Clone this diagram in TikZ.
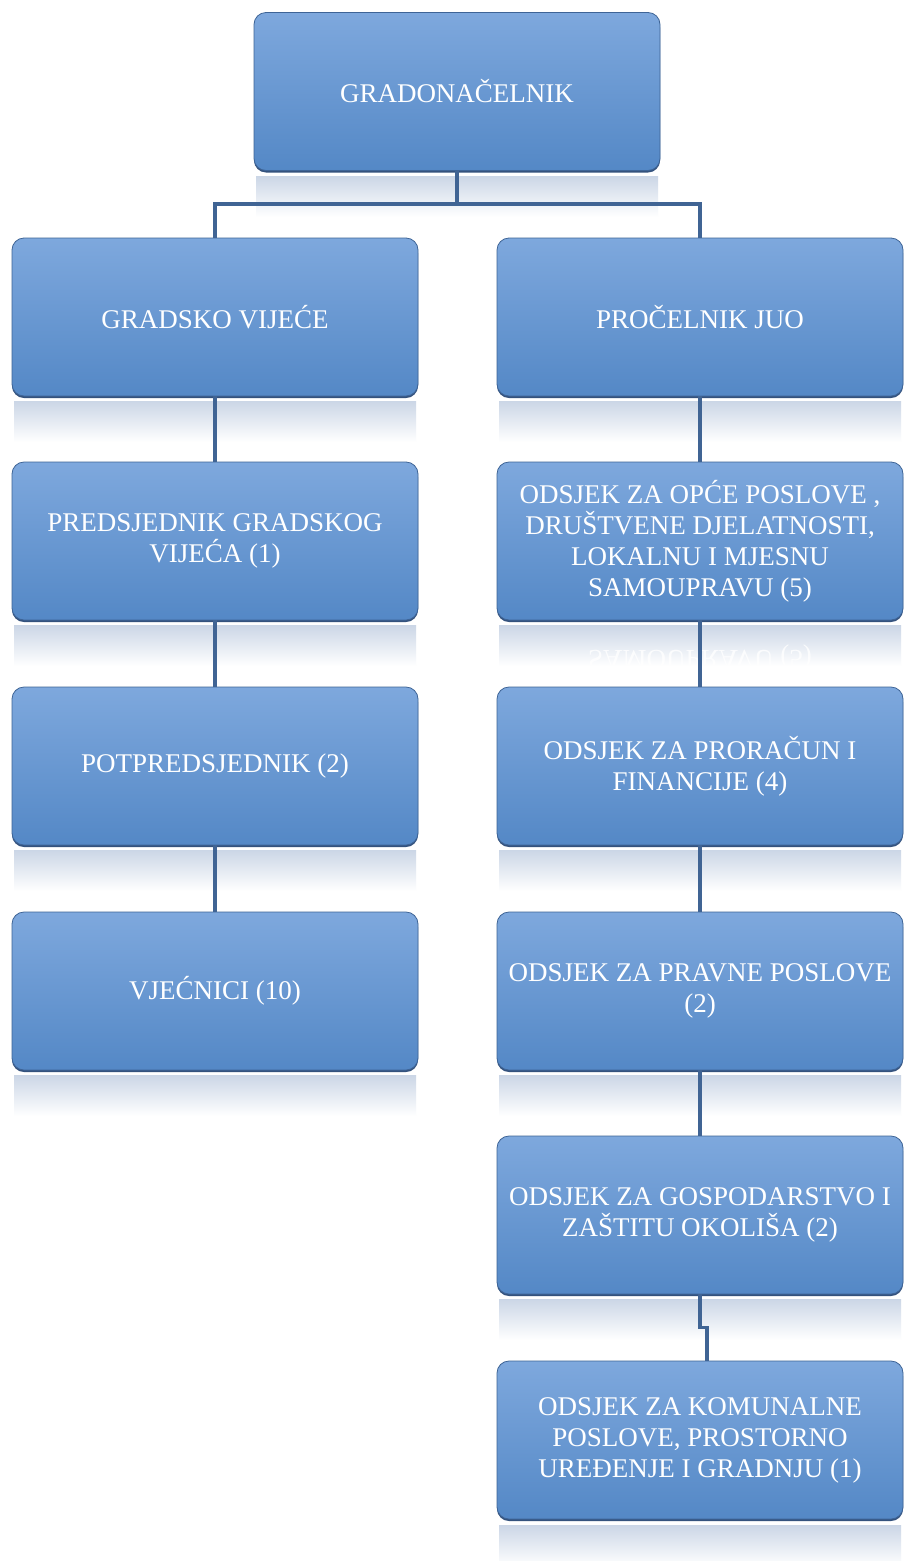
\documentclass[tikz,border=0pt]{standalone}
\usepackage{fontspec}
\setmainfont{Liberation Serif}
\definecolor{boxtop}{RGB}{126,168,221}
\definecolor{boxbot}{RGB}{84,136,198}
\definecolor{boxedge}{RGB}{62,100,150}
\definecolor{shadowc}{RGB}{52,82,125}
\definecolor{linec}{RGB}{64,100,148}
\definecolor{reflc}{RGB}{203,214,230}
\begin{document}
\begin{tikzpicture}[x=1pt,y=-1pt,
  orgbox/.style={rectangle, rounded corners=12pt, minimum width=406pt, minimum height=158pt,
    top color=boxtop, bottom color=boxbot, draw=boxedge, line width=0.8pt,
    text=white, align=center, inner sep=0pt,
    font=\fontsize{27}{31}\selectfont},
  conn/.style={draw=linec, line width=3.5pt},
  refl/.style={top color=reflc, bottom color=white, draw=none},
  shad/.style={fill=shadowc, rounded corners=12pt, draw=none}]
\useasboundingbox (0,0) rectangle (904,1561);
\fill[white] (0,0) rectangle (904,1561);

% reflections
\foreach \x/\y in {457/171, 215/396, 215/620, 215/845, 215/1070, 700/396, 700/620, 700/845, 700/1070, 700/1294, 700/1520}{
  \shade[refl] (\x-201,\y+5) rectangle (\x+201,\y+46);
}
\node[text=white, opacity=0.8, yscale=-1, font=\fontsize{27}{31}\selectfont] (mirr) at (700,657) {SAMOUPRAVU (5)};

% shadows
\foreach \x/\y in {457/91.5, 215/317, 215/541, 215/766, 215/991, 700/317, 700/541, 700/766, 700/991, 700/1215, 700/1440}{
  \fill[shad] (\x-203,\y-76) rectangle (\x+203,\y+81);
}

% boxes
\node[orgbox] (g) at (457,91.5) {GRADONAČELNIK};
\node[orgbox] (gv) at (215,317) {GRADSKO VIJEĆE};
\node[orgbox] (pg) at (215,541) {PREDSJEDNIK GRADSKOG\\VIJEĆA (1)};
\node[orgbox] (pp) at (215,766) {POTPREDSJEDNIK (2)};
\node[orgbox] (vj) at (215,991) {VJEĆNICI (10)};
\node[orgbox] (pj) at (700,317) {PROČELNIK JUO};
\node[orgbox] (o1) at (700,541) {ODSJEK ZA OPĆE POSLOVE ,\\DRUŠTVENE DJELATNOSTI,\\LOKALNU I MJESNU\\SAMOUPRAVU (5)};
\node[orgbox] (o2) at (700,766) {ODSJEK ZA PRORAČUN I\\FINANCIJE (4)};
\node[orgbox] (o3) at (700,991) {ODSJEK ZA PRAVNE POSLOVE\\(2)};
\node[orgbox] (o4) at (700,1215) {ODSJEK ZA GOSPODARSTVO I\\ZAŠTITU OKOLIŠA (2)};
\node[orgbox] (o5) at (700,1440) {ODSJEK ZA KOMUNALNE\\POSLOVE, PROSTORNO\\UREĐENJE I GRADNJU (1)};

% connectors
\coordinate (bus) at (457,204);
\path[conn] (g.south) -- (bus);
\path[conn] (bus) -| (gv.north);
\path[conn] (bus) -| (pj.north);
\path[conn] (gv.south) -- (pg.north);
\path[conn] (pg.south) -- (pp.north);
\path[conn] (pp.south) -- (vj.north);
\path[conn] (pj.south) -- (o1.north);
\path[conn] (o1.south) -- (o2.north);
\path[conn] (o2.south) -- (o3.north);
\path[conn] (o3.south) -- (o4.north);
\path[conn] (o4.south) -- ++(0,33) -| ([xshift=7pt]o5.north);
\end{tikzpicture}
\end{document}
